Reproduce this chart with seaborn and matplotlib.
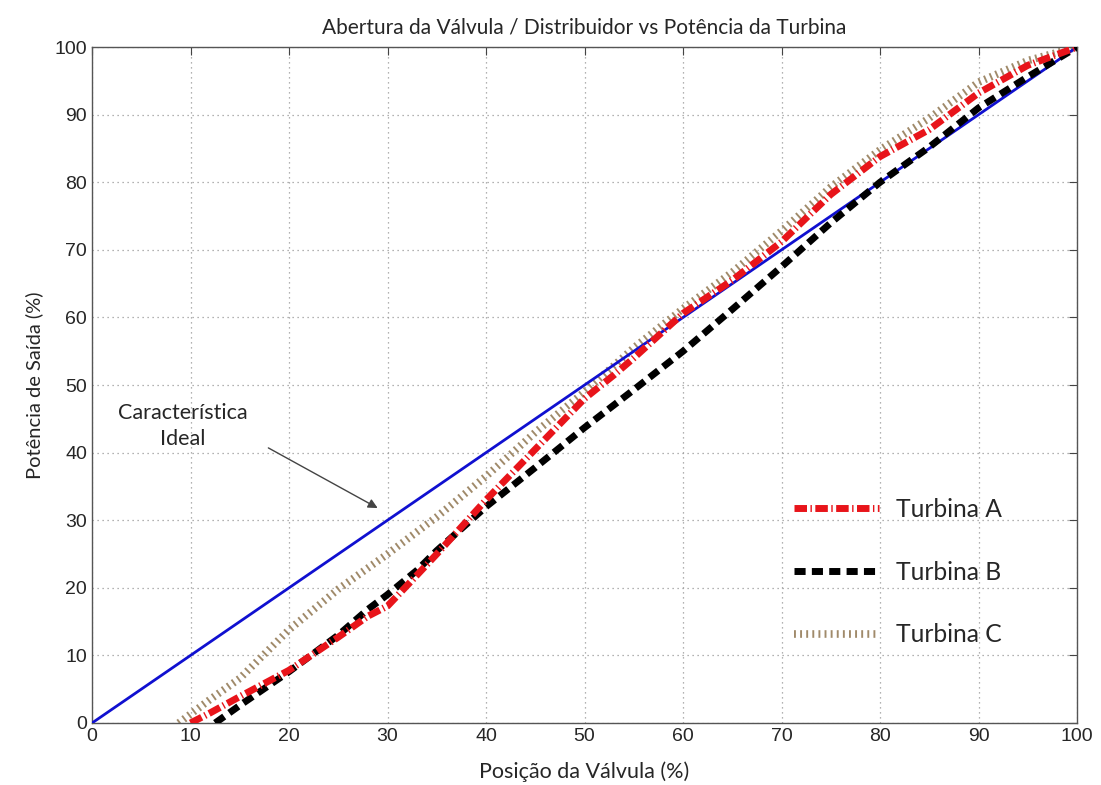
import numpy as np
import pandas as pd
import matplotlib
matplotlib.use("Agg")
import matplotlib.pyplot as plt
import seaborn as sns

# ideal characteristic
ideal_x = [0, 100]
ideal_y = [0, 100]

# Turbina A (red dash-dot)
turb_a_x = [10, 12, 15, 20, 25, 28, 30, 33, 35, 40, 45, 50, 53, 55, 60, 65, 70, 75, 80, 85, 90, 95, 100]
turb_a_y = [0, 1.5, 3.9, 7.8, 12.7, 15.8, 17.3, 21.9, 25.0, 33.0, 40.5, 48.0, 51.5, 54.0, 60.6, 65.5, 71.2, 78.2, 83.8, 87.8, 93.2, 97.3, 100]

# Turbina B (black dashed)
turb_b_x = [12.5, 15, 20, 25, 28, 30, 33, 35, 40, 45, 50, 55, 60, 65, 70, 75, 80, 85, 90, 95, 100]
turb_b_y = [0, 2.6, 7.6, 13.0, 16.8, 19.0, 22.6, 25.5, 32.0, 37.8, 43.7, 49.3, 55.0, 61.2, 67.5, 74.0, 80.0, 85.2, 91.0, 95.6, 100]

# Turbina C (tan hatched)
turb_c_x = [8.8, 12, 15, 20, 25, 30, 35, 40, 45, 50, 55, 60, 65, 70, 75, 80, 85, 90, 95, 100]
turb_c_y = [0, 3.5, 6.6, 13.8, 19.8, 25.0, 30.5, 36.5, 43.0, 49.0, 55.5, 61.3, 66.7, 72.8, 79.3, 84.8, 89.5, 94.8, 98.0, 100]

x_ticks = list(range(0, 101, 10))
y_ticks = list(range(0, 101, 10))

sns.set_style("white")
plt.rcParams["font.family"] = ["Liberation Sans Narrow", "Liberation Sans", "DejaVu Sans"]
label_font = ["Lato", "DejaVu Sans"]

fig = plt.figure(figsize=(11.01, 7.85), dpi=100)
ax = fig.add_axes([0.0836, 0.079, 0.8946, 0.861])

sns.lineplot(x=ideal_x, y=ideal_y, ax=ax, color="#1010d0", linewidth=2.0,
             sort=False, estimator=None, zorder=3)
sns.lineplot(x=turb_c_x, y=turb_c_y, ax=ax, color="#a08a6a", linewidth=5.5,
             linestyle=(0, (0.25, 0.55)), sort=False, estimator=None,
             label="Turbina C", zorder=2)
sns.lineplot(x=turb_b_x, y=turb_b_y, ax=ax, color="black", linewidth=5,
             linestyle=(0, (1.6, 0.9)), sort=False, estimator=None,
             label="Turbina B", zorder=4)
sns.lineplot(x=turb_a_x, y=turb_a_y, ax=ax, color="#e8141a", linewidth=5,
             linestyle=(0, (1.8, 0.5, 0.2, 0.5)), sort=False, estimator=None,
             label="Turbina A", zorder=5)

ax.set_xlim(0, 100)
ax.set_ylim(0, 100)
ax.set_xticks(x_ticks)
ax.set_yticks(y_ticks)
ax.tick_params(direction="in", length=6, top=True, right=True, labelsize=14,
               color="#444444")
ax.grid(True, linestyle=(0, (1, 3)), color="#999999", linewidth=0.9)
for s in ax.spines.values():
    s.set_color("#555555")
    s.set_linewidth(1.0)

ax.set_title("Abertura da Válvula / Distribuidor vs Potência da Turbina",
             fontsize=15, family=label_font, pad=10)
ax.set_xlabel("Posição da Válvula (%)", fontsize=15.5, family=label_font, labelpad=12)
ax.set_ylabel("Potência de Saída (%)", fontsize=14.5, family=label_font, labelpad=8)

ax.text(9.2, 43.9, "Característica\nIdeal", ha="center", va="center",
        fontsize=15.5, family=label_font, linespacing=1.35)
ax.annotate("", xy=(29.0, 31.8), xytext=(17.9, 40.7),
            arrowprops=dict(arrowstyle="-|>", color="#444444", lw=1.0,
                            shrinkA=0, shrinkB=0, mutation_scale=14))

handles, labels = ax.get_legend_handles_labels()
order = [labels.index(n) for n in ["Turbina A", "Turbina B", "Turbina C"]]
ax.legend([handles[i] for i in order], [labels[i] for i in order],
          loc="upper left", bbox_to_anchor=(0.690, 0.366), frameon=False,
          handlelength=3.45, labelspacing=1.62, handletextpad=0.7,
          prop={"family": label_font, "size": 17.7})

fig.savefig("out.png", dpi=100)
